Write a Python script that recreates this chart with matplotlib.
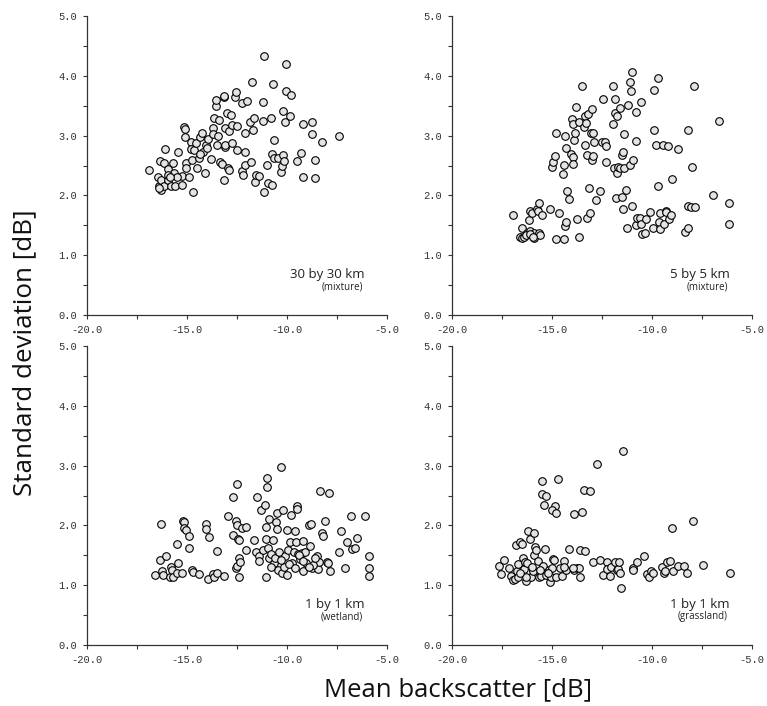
import matplotlib
matplotlib.use("Agg")
import matplotlib.pyplot as plt
import numpy as np

# panel 1: 30 by 30 km (mixture)
x_30 = [-16.92, -16.45, -16.35, -16.12, -16.13, -16.42, -16.32, -16.28, -16.17, -15.93,
        -15.93, -15.78, -15.68, -15.63, -15.62, -15.45, -15.27, -15.25, -15.15, -15.12,
        -15.08, -15.07, -15.05, -14.92, -14.82, -14.78, -14.75, -14.72, -14.67, -14.57,
        -14.52, -14.38, -14.35, -14.23, -14.20, -14.12, -14.07, -13.93, -13.78, -13.72,
        -13.72, -13.65, -13.57, -13.55, -13.48, -13.43, -13.38, -13.35, -13.23, -13.15,
        -13.13, -13.13, -13.10, -13.10, -13.10, -13.00, -12.97, -12.92, -12.88, -12.80,
        -12.77, -12.75, -12.60, -12.55, -12.50, -12.48, -12.25, -12.23, -12.20, -12.12,
        -12.10, -12.08, -11.98, -11.85, -11.82, -11.73, -11.68, -11.63, -11.58, -11.55,
        -11.38, -11.22, -11.22, -11.15, -11.15, -10.98, -10.95, -10.82, -10.77, -10.73,
        -10.68, -10.65, -10.65, -10.47, -10.32, -10.23, -10.18, -10.18, -10.15, -10.08,
        -10.05, -10.05, -9.85, -9.82, -9.52, -9.30, -9.22, -9.20, -8.73, -8.73,
        -8.62, -8.60, -8.27, -7.38, -15.93, -15.52, -14.35, -14.02, -16.38, -15.85]
y_30 = [2.42, 2.31, 2.58, 2.78, 2.54, 2.15, 2.09, 2.25, 2.15, 2.44,
        2.26, 2.16, 2.54, 2.38, 2.15, 2.72, 2.33, 2.17, 3.14, 3.11,
        2.97, 2.54, 2.45, 2.31, 2.90, 2.78, 2.59, 2.06, 2.76, 2.87,
        2.45, 2.63, 2.98, 3.05, 2.73, 2.37, 2.85, 2.95, 2.61, 3.12,
        3.02, 3.29, 3.50, 3.60, 2.85, 3.00, 3.26, 2.56, 2.52, 3.65,
        3.67, 2.26, 3.12, 2.81, 2.85, 3.38, 2.46, 3.08, 2.42, 3.34,
        2.87, 3.18, 3.65, 3.73, 2.76, 3.16, 3.54, 2.41, 2.34, 2.73,
        3.05, 2.51, 3.58, 3.23, 2.56, 3.89, 3.10, 3.29, 2.23, 2.34,
        2.33, 3.57, 3.25, 4.33, 2.06, 2.51, 2.21, 3.30, 2.17, 2.69,
        3.86, 2.93, 2.63, 2.62, 2.39, 2.50, 3.41, 2.68, 2.58, 3.23,
        4.20, 3.75, 3.32, 3.68, 2.58, 2.71, 2.31, 3.19, 3.23, 3.02,
        2.59, 2.29, 2.90, 3.00, 2.34, 2.31, 2.70, 2.79, 2.12, 2.30]

# panel 2: 5 by 5 km (mixture)
x_5 = [-16.95, -16.50, -16.58, -16.50, -16.38, -16.25, -16.17, -16.08, -16.08, -16.00,
       -15.92, -15.88, -15.75, -15.72, -15.67, -15.67, -15.62, -15.50, -15.08, -15.02,
       -14.95, -14.83, -14.78, -14.82, -14.65, -14.47, -14.42, -14.42, -14.37, -14.33,
       -14.28, -14.28, -14.25, -14.13, -14.05, -13.98, -13.97, -13.95, -13.93, -13.92,
       -13.87, -13.78, -13.77, -13.65, -13.63, -13.52, -13.38, -13.35, -13.33, -13.28,
       -13.25, -13.25, -13.22, -13.13, -13.08, -13.05, -13.02, -12.98, -12.97, -12.95,
       -12.90, -12.78, -12.58, -12.52, -12.47, -12.35, -12.32, -12.28, -11.95, -11.97,
       -11.92, -11.87, -11.83, -11.78, -11.75, -11.75, -11.68, -11.62, -11.58, -11.50,
       -11.48, -11.47, -11.47, -11.42, -11.38, -11.30, -11.23, -11.18, -11.10, -11.08,
       -11.05, -11.02, -11.00, -10.95, -10.80, -10.80, -10.78, -10.75, -10.62, -10.55,
       -10.55, -10.50, -10.37, -10.28, -10.12, -9.92, -9.92, -9.95, -9.78, -9.72,
       -9.70, -9.67, -9.58, -9.58, -9.45, -9.38, -9.32, -9.28, -9.18, -9.15,
       -9.05, -8.98, -8.70, -8.35, -8.22, -8.22, -8.18, -8.03, -7.98, -7.92,
       -7.87, -6.95, -6.65, -6.17, -6.17, -16.30, -16.10, -15.95]
y_5 = [1.67, 1.46, 1.31, 1.29, 1.30, 1.37, 1.59, 1.74, 1.41, 1.71,
       1.37, 1.28, 1.78, 1.74, 1.88, 1.37, 1.34, 1.67, 1.77, 2.48,
       2.56, 2.66, 3.04, 1.27, 1.71, 2.35, 1.27, 2.51, 2.99, 1.48,
       1.55, 2.80, 2.07, 1.94, 2.69, 3.28, 3.19, 2.64, 2.52, 2.93,
       3.04, 3.48, 1.60, 3.22, 1.30, 3.83, 3.15, 3.32, 2.85, 3.21,
       1.62, 2.68, 3.36, 2.13, 1.71, 3.05, 3.45, 2.59, 3.04, 2.66,
       2.90, 1.92, 2.07, 2.90, 3.61, 2.89, 2.83, 2.56, 3.83, 3.19,
       2.46, 3.38, 3.62, 1.95, 2.38, 3.32, 2.48, 3.46, 2.46, 1.98,
       2.68, 1.78, 2.73, 2.45, 3.02, 2.09, 1.45, 3.51, 2.51, 3.89,
       3.75, 1.82, 4.07, 2.59, 2.91, 3.39, 1.50, 1.63, 1.63, 3.57,
       1.52, 1.35, 1.37, 1.61, 1.72, 3.09, 3.76, 1.45, 2.85, 2.15,
       3.97, 1.55, 1.43, 1.70, 2.84, 1.53, 1.74, 1.72, 2.83, 1.61,
       1.68, 2.27, 2.77, 1.39, 1.83, 1.46, 3.10, 1.81, 2.48, 3.83,
       1.81, 2.01, 3.24, 1.87, 1.52, 1.33, 1.36, 1.31]

# panel 3: 1 by 1 km (wetland)
x_wet = [-16.58, -16.35, -16.32, -16.23, -16.18, -16.05, -15.85, -15.78, -15.73, -15.68,
         -15.52, -15.52, -15.43, -15.27, -15.20, -15.17, -15.15, -15.07, -14.90, -14.90,
         -14.73, -14.72, -14.42, -14.07, -14.05, -13.95, -13.88, -13.72, -13.65, -13.52,
         -13.50, -13.13, -12.93, -12.72, -12.72, -12.57, -12.57, -12.48, -12.52, -12.45,
         -12.42, -12.48, -12.38, -12.38, -12.33, -12.25, -12.05, -12.03, -11.63, -11.55,
         -11.48, -11.38, -11.30, -11.22, -11.10, -11.07, -11.07, -11.05, -11.02, -11.02,
         -10.95, -10.90, -10.88, -10.82, -10.68, -10.65, -10.60, -10.57, -10.52, -10.48,
         -10.47, -10.40, -10.30, -10.27, -10.18, -10.15, -10.10, -10.02, -9.98, -9.97,
         -9.85, -9.82, -9.73, -9.67, -9.62, -9.55, -9.50, -9.50, -9.47, -9.35,
         -9.27, -9.18, -9.18, -9.10, -9.05, -8.92, -8.85, -8.82, -8.77, -8.52,
         -8.43, -8.38, -8.35, -8.23, -8.22, -8.10, -7.98, -7.93, -7.88, -7.85,
         -7.38, -7.32, -7.10, -7.02, -6.80, -6.77, -6.60, -6.50, -6.08, -5.88,
         -5.88, -5.90, -10.30, -9.90, -9.60, -9.40, -8.70, -8.60, -10.80, -11.40,
         -9.20, -8.90]
y_wet = [1.17, 1.42, 2.02, 1.24, 1.17, 1.49, 1.13, 1.31, 1.25, 1.14,
         1.69, 1.20, 1.37, 1.21, 2.07, 2.05, 1.95, 1.92, 1.83, 1.62,
         1.25, 1.22, 1.18, 2.02, 1.94, 1.10, 1.80, 1.18, 1.14, 1.20,
         1.58, 1.16, 2.15, 2.48, 1.84, 2.08, 1.29, 2.70, 1.32, 1.78,
         1.76, 2.00, 1.45, 1.13, 1.38, 1.95, 1.98, 1.59, 1.76, 1.56,
         2.47, 1.48, 2.26, 1.59, 2.34, 1.98, 1.77, 1.14, 2.80, 2.65,
         1.62, 2.11, 1.45, 1.53, 1.76, 1.37, 1.45, 2.06, 1.94, 2.20,
         1.25, 1.55, 2.97, 1.20, 2.26, 1.31, 1.48, 1.92, 1.17, 1.59,
         1.73, 2.17, 1.37, 1.55, 1.90, 1.72, 2.33, 2.27, 1.53, 1.43,
         1.54, 1.74, 1.24, 1.56, 1.37, 2.01, 1.66, 2.03, 1.28, 1.48,
         1.27, 1.39, 2.58, 1.87, 1.82, 2.08, 1.38, 1.37, 2.55, 1.24,
         1.56, 1.90, 1.29, 1.72, 2.16, 1.61, 1.63, 1.79, 2.15, 1.48,
         1.29, 1.16, 1.42, 1.35, 1.28, 1.50, 1.33, 1.45, 1.30, 1.40,
         1.40, 1.30]

# panel 4: 1 by 1 km (grassland)
x_grass = [-17.63, -17.55, -17.38, -17.17, -17.05, -16.95, -16.87, -16.78, -16.75, -16.72,
           -16.68, -16.58, -16.50, -16.45, -16.42, -16.33, -16.28, -16.25, -16.18, -16.08,
           -16.05, -15.97, -15.92, -15.92, -15.83, -15.80, -15.72, -15.67, -15.53, -15.50,
           -15.48, -15.45, -15.42, -15.35, -15.32, -15.30, -15.17, -15.12, -15.05, -15.02,
           -14.93, -14.92, -14.87, -15.00, -14.82, -14.78, -14.68, -14.58, -14.50, -14.38,
           -14.30, -14.15, -13.92, -13.88, -13.75, -13.65, -13.62, -13.58, -13.52, -13.42,
           -13.35, -13.12, -12.97, -12.73, -12.60, -12.47, -12.25, -12.23, -12.12, -12.03,
           -11.83, -11.75, -11.68, -11.65, -11.62, -11.53, -11.47, -10.97, -10.93, -10.73,
           -10.38, -10.25, -10.13, -10.05, -9.95, -9.50, -9.42, -9.37, -9.25, -9.08,
           -8.98, -8.97, -8.70, -8.38, -8.25, -7.93, -7.45, -6.08, -16.28, -16.60,
           -16.00, -15.60, -15.20, -14.40, -13.95]
y_grass = [1.32, 1.19, 1.42, 1.29, 1.15, 1.08, 1.11, 1.67, 1.24, 1.35,
           1.14, 1.72, 1.69, 1.45, 1.27, 1.39, 1.07, 1.37, 1.91, 1.77,
           1.14, 1.24, 1.87, 1.50, 1.64, 1.59, 1.40, 1.13, 1.16, 2.53,
           2.74, 1.32, 2.34, 1.61, 2.50, 1.17, 1.25, 1.06, 1.14, 1.28,
           1.44, 1.42, 2.32, 2.26, 2.20, 1.14, 2.78, 1.29, 1.15, 1.41,
           1.25, 1.61, 2.19, 1.25, 1.29, 1.29, 1.13, 1.59, 2.23, 2.60,
           1.57, 2.57, 1.38, 3.03, 1.42, 1.17, 1.38, 1.27, 1.15, 1.31,
           1.39, 1.25, 1.27, 1.39, 1.20, 0.95, 3.24, 1.29, 1.25, 1.38,
           1.49, 1.18, 1.14, 1.24, 1.20, 1.31, 1.20, 1.24, 1.38, 1.40,
           1.95, 1.23, 1.32, 1.32, 1.21, 2.07, 1.34, 1.21, 1.14, 1.20,
           1.30, 1.25, 1.20, 1.30, 1.28]

panels = [
    (x_30, y_30, "30 by 30 km", "(mixture)"),
    (x_5, y_5, "5 by 5 km", "(mixture)"),
    (x_wet, y_wet, "1 by 1 km", "(wetland)"),
    (x_grass, y_grass, "1 by 1 km", "(grassland)"),
]

label_font = "Open Sans"
tick_font = "Liberation Mono"

fig = plt.figure(figsize=(7.67, 7.06), dpi=100)
W, H = 767.0, 706.0
boxes = [(87, 16), (452, 16), (87, 346), (452, 346)]

for (x, y, title, sub), (left, top) in zip(panels, boxes):
    ax = fig.add_axes([left / W, 1 - (top + 299) / H, 300 / W, 299 / H])
    ax.scatter(x, y, s=30, facecolor="#e4e4e4", edgecolor="black",
               linewidths=0.8, zorder=3, clip_on=False)
    ax.set_xlim(-20, -5)
    ax.set_ylim(0, 5)
    ax.set_xticks(np.arange(-20, -4, 5.0))
    ax.set_xticks(np.arange(-20, -4, 2.5), minor=True)
    ax.set_yticks(np.arange(0, 5.1, 1.0))
    ax.set_yticks(np.arange(0, 5.1, 0.5), minor=True)
    ax.set_xticklabels(["%.1f" % v for v in np.arange(-20, -4, 5.0)])
    ax.set_yticklabels(["%.1f" % v for v in np.arange(0, 5.1, 1.0)])
    for lab in ax.get_xticklabels() + ax.get_yticklabels():
        lab.set_fontfamily(tick_font)
        lab.set_fontsize(7.5)
        lab.set_color("#333333")
    ax.tick_params(which="both", direction="out", length=3, width=0.8,
                   color="#333333", pad=4)
    for side in ("top", "right"):
        ax.spines[side].set_visible(False)
    for side in ("left", "bottom"):
        ax.spines[side].set_color("#333333")
        ax.spines[side].set_linewidth(0.9)
    ax.text(-6.1, 0.67, title, ha="right", va="center", fontsize=9.5,
            family=label_font, color="#222222")
    ax.text(-6.2, 0.47, sub, ha="right", va="center", fontsize=7,
            family=label_font, color="#222222")

fig.text(25 / W, 1 - 353 / H, "Standard deviation [dB]", rotation=90,
         ha="center", va="center", fontsize=18.7, family=label_font, color="#111111")
fig.text(458 / W, 1 - 690 / H, "Mean backscatter [dB]",
         ha="center", va="center", fontsize=18.5, family=label_font, color="#111111")

fig.savefig("out.png", dpi=100)
